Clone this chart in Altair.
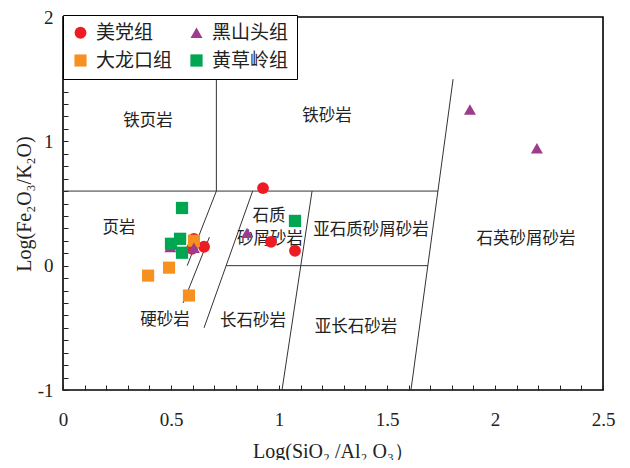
import altair as alt
import pandas as pd

# ---------------- data ----------------
groups = ["美党组", "黑山头组", "大龙口组", "黄草岭组"]
colors = ["#ed1c24", "#9e3b8c", "#f7901e", "#00a651"]
shapes = ["circle", "triangle-up", "square", "square"]
sizes = [140, 150, 100, 100]

meidang_x = [0.926, 0.963, 1.074, 0.606, 0.653, 0.597]
meidang_y = [0.624, 0.192, 0.120, 0.216, 0.152, 0.136]

dalongkou_x = [0.394, 0.491, 0.583, 0.606]
dalongkou_y = [-0.080, -0.016, -0.240, 0.200]

heishantou_x = [1.884, 2.194, 0.852, 0.606, 0.497]
heishantou_y = [1.256, 0.944, 0.264, 0.144, 0.150]

huangcaoling_x = [0.551, 0.500, 0.542, 0.551, 1.074]
huangcaoling_y = [0.464, 0.176, 0.216, 0.104, 0.360]

# classification boundaries (Herron 1988)
seg_x1 = [0.000, 0.710, 1.806, 0.710, 0.678, 0.878, 1.153, 0.755]
seg_y1 = [0.600, 0.600, 1.500, 0.600, 0.230, 0.600, 0.600, 0.000]
seg_x2 = [1.736, 0.710, 1.611, 0.575, 0.556, 0.653, 1.014, 1.690]
seg_y2 = [0.600, 1.500, -1.000, 0.000, -0.300, -0.500, -1.000, 0.000]

region_labels = ["铁页岩", "铁砂岩", "页岩", "石质", "砂屑砂岩", "亚石质砂屑砂岩",
                 "石英砂屑砂岩", "硬砂岩", "长石砂岩", "亚长石砂岩"]
region_x = [0.394, 1.222, 0.259, 0.954, 0.958, 1.426, 2.143, 0.472, 0.880, 1.356]
region_y = [1.160, 1.200, 0.304, 0.398, 0.212, 0.288, 0.216, -0.440, -0.448, -0.496]

x_ticks = [round(i * 0.1, 1) for i in range(26)]
y_ticks = [round(-1 + i * 0.1, 1) for i in range(31)]

# ---------------- tables ----------------
rows = []
for g, xs, ys in [("美党组", meidang_x, meidang_y),
                  ("大龙口组", dalongkou_x, dalongkou_y),
                  ("黑山头组", heishantou_x, heishantou_y),
                  ("黄草岭组", huangcaoling_x, huangcaoling_y)]:
    for a, b in zip(xs, ys):
        rows.append({"group": g, "x": a, "y": b})
pts = pd.DataFrame(rows)

segs = pd.DataFrame({"x": seg_x1, "y": seg_y1, "x2": seg_x2, "y2": seg_y2})
labels = pd.DataFrame({"label": region_labels, "x": region_x, "y": region_y})

serif = "Liberation Serif"
cjk = "Noto Sans CJK SC"

xscale = alt.Scale(domain=[0, 2.5], nice=False, zero=False)
yscale = alt.Scale(domain=[-1, 2], nice=False, zero=False)

xaxis = alt.Axis(
    values=x_ticks,
    labelExpr="(abs(datum.value*2 - round(datum.value*2)) < 0.001) ? ('' + datum.value) : ''",
    tickSize=5, offset=-5, domain=False, grid=False,
    labelFont=serif, labelFontSize=19, labelPadding=20, labelColor="#222",
    labelOverlap=False, labelFlush=False,
    titleFont=serif, titleFontSize=20, titleFontWeight="normal", titleColor="#222",
    titlePadding=12, tickColor="#222", tickWidth=1,
)
yaxis = alt.Axis(
    values=y_ticks,
    labelExpr="(abs(datum.value - round(datum.value)) < 0.001) ? ('' + datum.value) : ''",
    tickSize=5, offset=-5, domain=False, grid=False,
    labelFont=serif, labelFontSize=19, labelPadding=10, labelColor="#222",
    labelOverlap=False, labelFlush=False,
    titleFont=serif, titleFontSize=20, titleFontWeight="normal", titleColor="#222",
    titlePadding=3, tickColor="#222", tickWidth=1,
)

X = alt.X("x:Q", scale=xscale, axis=xaxis, title="Log(SiO₂ /Al₂ O₃）")
Y = alt.Y("y:Q", scale=yscale, axis=yaxis, title="Log(Fe₂O₃/K₂O)")

lines = alt.Chart(segs).mark_rule(color="#333333", strokeWidth=1).encode(
    x=X, y=Y, x2="x2:Q", y2="y2:Q"
)

texts = alt.Chart(labels).mark_text(font=cjk, fontSize=16.5, color="#222222").encode(
    x=X, y=Y, text="label:N"
)

points = alt.Chart(pts).mark_point(filled=True, opacity=1, strokeWidth=0).encode(
    x=X, y=Y,
    color=alt.Color("group:N", scale=alt.Scale(domain=groups, range=colors), title=None),
    shape=alt.Shape("group:N", scale=alt.Scale(domain=groups, range=shapes), title=None),
    size=alt.Size("group:N", scale=alt.Scale(domain=groups, range=sizes), title=None),
)

chart = alt.layer(lines, texts, points).properties(
    width=540, height=373,
    autosize=alt.AutoSizeParams(type="none"),
    padding={"left": 55, "top": 9, "right": 19, "bottom": 70},
).configure_view(
    stroke="black", strokeWidth=1.6
).configure_legend(
    orient="none", legendX=0, legendY=-2, columns=2, direction="horizontal",
    strokeColor="black", fillColor="white", padding=8,
    labelFont=cjk, labelFontSize=19, labelColor="#222", labelOffset=6,
    columnPadding=14, rowPadding=8, symbolStrokeWidth=0, labelLimit=300,
)

chart.save("out.html", embed_options={"renderer": "svg", "actions": False})
